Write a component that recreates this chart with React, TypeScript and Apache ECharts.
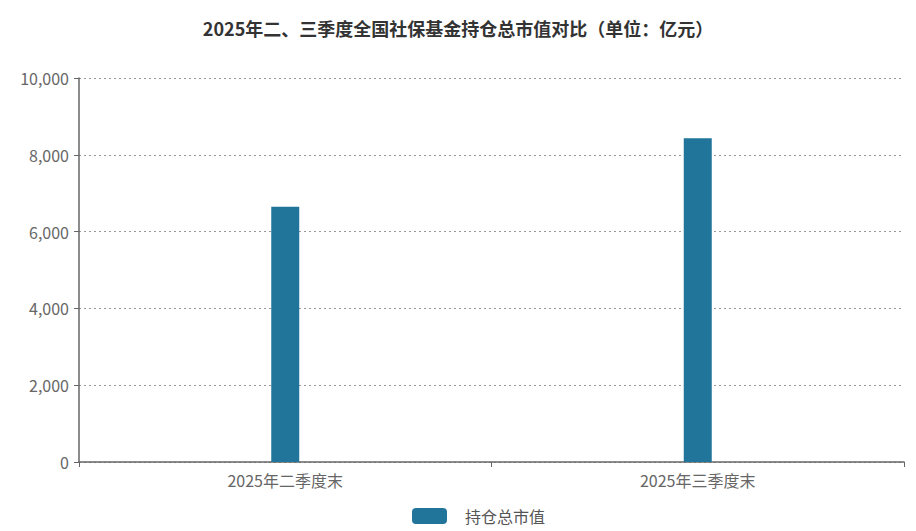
import React, { useEffect, useRef } from "react";
import * as echarts from "echarts";

const categories = ["2025年二季度末", "2025年三季度末"];
const seriesName = "持仓总市值";
const values = [6645, 8432];
const titleText = "2025年二、三季度全国社保基金持仓总市值对比（单位：亿元）";

export default function App() {
  const ref = useRef<HTMLDivElement>(null);
  useEffect(() => {
    document.body.style.margin = "0";
    const chart = echarts.init(ref.current!, null, { renderer: "svg" });
    const font = "'Noto Sans CJK SC', 'Noto Sans', sans-serif";
    chart.setOption({
      animation: false,
      textStyle: { fontFamily: font },
      title: {
        text: titleText,
        left: "center",
        top: 14,
        textStyle: { fontSize: 18, fontWeight: "bold", color: "#333", fontFamily: font },
      },
      legend: {
        bottom: 2,
        left: 407,
        itemWidth: 35,
        itemHeight: 16,
        icon: "path://M4,0 H31 A4,4 0 0 1 35,4 V12 A4,4 0 0 1 31,16 H4 A4,4 0 0 1 0,12 V4 A4,4 0 0 1 4,0 Z",
        textStyle: { fontSize: 16, color: "#555", fontFamily: font, padding: [0, 0, 0, 13] },
        data: [seriesName],
      },
      grid: { left: 79, right: 12, top: 78, bottom: 69, containLabel: false },
      xAxis: {
        type: "category",
        data: categories,
        axisLine: { lineStyle: { color: "#666", width: 1.5 } },
        axisTick: { show: true, length: 5, lineStyle: { color: "#666" } },
        axisLabel: { fontSize: 16, color: "#666", margin: 10, fontFamily: font },
      },
      yAxis: {
        type: "value",
        min: 0,
        max: 10000,
        interval: 2000,
        axisLine: { show: true, lineStyle: { color: "#666", width: 1.5 } },
        axisTick: { show: true, length: 5, lineStyle: { color: "#666" } },
        axisLabel: { fontSize: 16, color: "#666", margin: 10, fontFamily: font },
        splitLine: { show: true, lineStyle: { color: "#999", type: [2, 3], width: 1 } },
      },
      series: [
        {
          name: seriesName,
          type: "bar",
          data: values,
          barWidth: 28,
          itemStyle: { color: "#21759b" },
        },
      ],
    });
    return () => chart.dispose();
  }, []);
  return <div ref={ref} style={{ width: 916, height: 531 }} />;
}
